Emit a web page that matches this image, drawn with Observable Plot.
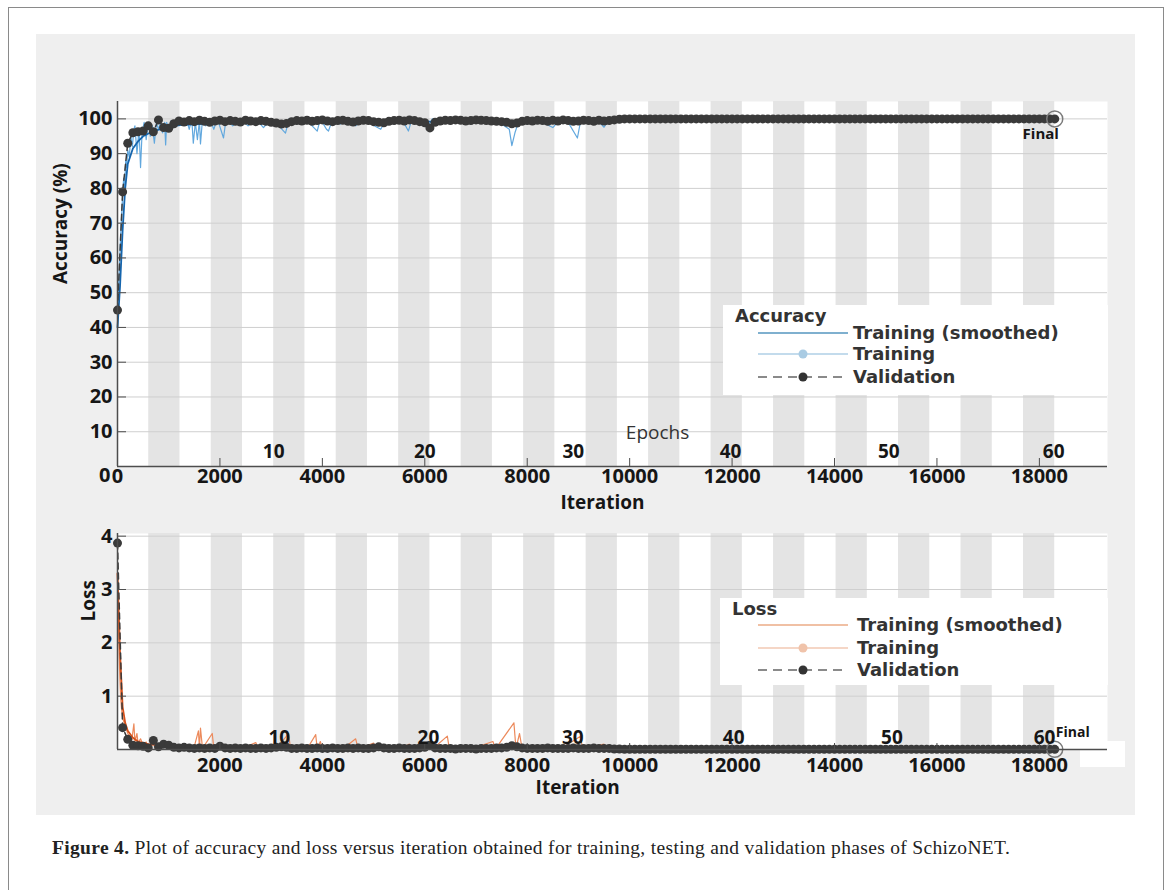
<!DOCTYPE html>
<html>
<head>
<meta charset="utf-8">
<script src="https://cdn.jsdelivr.net/npm/d3@7"></script>
<script src="https://cdn.jsdelivr.net/npm/@observablehq/plot@0.6"></script>
<style>
  html, body { margin: 0; padding: 0; background: #fff; overflow: hidden; }
  #fig { position: relative; width: 1171px; height: 890px; }
  #frame { position: absolute; left: 8px; top: 7px; width: 1154px; height: 900px; border: 1.5px solid #8a8a8a; }
  #panel { position: absolute; left: 36px; top: 34px; width: 1099px; height: 781px; background: #efefef; }
  #patch { position: absolute; left: 1080px; top: 741px; width: 45px; height: 26px; background: #fff; }
  .chart { position: absolute; left: 0; }
  #overlay { position: absolute; left: 0; top: 0; pointer-events: none; }
  #caption { position: absolute; left: 52px; top: 837px; font: 19.5px "Liberation Serif", serif; letter-spacing: 0.33px; color: #222; white-space: nowrap; }
</style>
</head>
<body>
<div id="fig">
  <div id="frame"></div>
  <div id="panel"></div>
  <div id="patch"></div>
  <div id="caption"><b>Figure 4.</b> Plot of accuracy and loss versus iteration obtained for training, testing and validation phases of SchizoNET.</div>
</div>
<script>
// ---- Training schedule ----
const itersPerEpoch = 305;
const numEpochs = 60;
const shadeEvery = 2;          // epochs per shaded band
const valEvery = 100;          // validation frequency (iterations)

// ---- Axis ticks ----
const accTicks = [10, 20, 30, 40, 50, 60, 70, 80, 90, 100];
const lossTicks = [1, 2, 3, 4];
const iterTicks = [2000, 4000, 6000, 8000, 10000, 12000, 14000, 16000, 18000];

// ---- Epoch markers along the iteration axis ----
const epochLabels = [10, 20, 30, 40, 50, 60];
const epochLabelIterAcc = [3050, 6000, 8900, 11970, 15060, 18280];
const epochLabelIterLoss = [3160, 6070, 8890, 12030, 15120, 18100];

// ---- Validation accuracy (%), one value every valEvery iterations ----
const valAccuracy = [
  45, 79, 93, 96, 96.3, 96.5, 98, 96.3, 99.7, 97.5,
  97.3, 98.6, 99.4, 99.1, 99.5, 99.2, 99.6, 99.3, 99.0, 99.4,
  99.6, 99.2, 99.5, 99.3, 99.1, 99.6, 99.4, 99.2, 99.5, 99.3,
  99.0, 98.8, 98.5, 98.7, 99.2, 99.5, 99.4, 99.6, 99.3, 99.5,
  99.7, 99.4, 99.2, 99.5, 99.6, 99.3, 99.1, 99.4, 99.6, 99.5,
  99.2, 99.0, 98.9, 99.3, 99.5, 99.6, 99.4, 99.7, 99.5, 99.2,
  98.9, 97.4, 99.0, 99.4, 99.6, 99.5, 99.7, 99.6, 99.4, 99.5,
  99.7, 99.6, 99.5, 99.4, 99.3, 99.2, 99.0, 98.6, 98.8, 99.3,
  99.5, 99.4, 99.6, 99.5, 99.3, 99.6, 99.4, 99.7, 99.5, 99.3,
  99.4, 99.6, 99.5, 99.3, 99.6, 99.4, 99.5, 99.7, 99.9, 100,
  100, 100, 100, 100, 100, 100, 100, 100, 100, 100, 100, 100,
  100, 100, 100, 100, 100, 100, 100, 100, 100, 100, 100, 100,
  100, 100, 100, 100, 100, 100, 100, 100, 100, 100, 100, 100,
  100, 100, 100, 100, 100, 100, 100, 100, 100, 100, 100, 100,
  100, 100, 100, 100, 100, 100, 100, 100, 100, 100, 100, 100,
  100, 100, 100, 100, 100, 100, 100, 100, 100, 100, 100, 100,
  100, 100, 100, 100, 100, 100, 100, 100, 100, 100, 100, 100
];

// ---- Validation loss, one value every valEvery iterations ----
const valLoss = [
  3.87, 0.41, 0.19, 0.08, 0.07, 0.06, 0.03, 0.17, 0.05, 0.10,
  0.08, 0.04, 0.03, 0.04, 0.03, 0.02, 0.03, 0.02, 0.03, 0.02,
  0.06, 0.03, 0.02, 0.03, 0.02, 0.03, 0.02, 0.02, 0.03, 0.02,
  0.03, 0.04, 0.05, 0.04, 0.02, 0.02, 0.03, 0.02, 0.02, 0.03,
  0.02, 0.02, 0.03, 0.02, 0.02, 0.03, 0.02, 0.03, 0.02, 0.02,
  0.03, 0.05, 0.03, 0.02, 0.02, 0.03, 0.02, 0.02, 0.02, 0.03,
  0.04, 0.08, 0.03, 0.02, 0.02, 0.02, 0.01, 0.02, 0.02, 0.02,
  0.01, 0.02, 0.02, 0.02, 0.03, 0.03, 0.04, 0.07, 0.05, 0.03,
  0.02, 0.02, 0.02, 0.02, 0.03, 0.02, 0.02, 0.02, 0.02, 0.03,
  0.02, 0.02, 0.02, 0.03, 0.02, 0.02, 0.02, 0.01, 0.01, 0.005,
  0.005, 0.004, 0.004, 0.005, 0.004, 0.004, 0.004, 0.005, 0.004, 0.004, 0.004, 0.004,
  0.004, 0.004, 0.005, 0.004, 0.004, 0.004, 0.004, 0.004, 0.004, 0.004, 0.004, 0.004,
  0.004, 0.004, 0.004, 0.004, 0.003, 0.004, 0.004, 0.004, 0.004, 0.003, 0.004, 0.004,
  0.003, 0.004, 0.004, 0.003, 0.004, 0.003, 0.003, 0.004, 0.003, 0.003, 0.003, 0.004,
  0.003, 0.003, 0.003, 0.003, 0.004, 0.003, 0.003, 0.003, 0.003, 0.003, 0.003, 0.003,
  0.003, 0.003, 0.003, 0.003, 0.003, 0.003, 0.003, 0.003, 0.003, 0.003, 0.003, 0.003,
  0.003, 0.003, 0.003, 0.003, 0.003, 0.003, 0.003, 0.003, 0.003, 0.003, 0.003, 0.003
];

// ---- Training accuracy (%), per-iteration trace [iteration, value] ----
const trainAccuracy = [
  [0, 40], [20, 52], [40, 58], [60, 66], [80, 72], [100, 78], [120, 83], [140, 80], [160, 88], [180, 86],
  [200, 91], [230, 89], [260, 95], [290, 92], [320, 97], [340, 98], [380, 90], [420, 97], [450, 86], [480, 96],
  [520, 99], [560, 94], [600, 99], [640, 95], [680, 98], [720, 93], [760, 99], [800, 97], [840, 99], [880, 96],
  [920, 99], [940, 92.5], [960, 99], [1000, 97], [1050, 99.5], [1100, 97.5], [1150, 100], [1200, 98], [1250, 100],
  [1300, 98.5], [1350, 100], [1400, 97], [1450, 100], [1480, 93], [1520, 99], [1560, 94], [1600, 99.5], [1620, 92.8],
  [1660, 100], [1720, 98], [1800, 100], [1880, 97], [1950, 100], [2070, 94.5], [2120, 100], [2250, 98], [2400, 100],
  [2550, 98], [2700, 100], [2850, 97.5], [3000, 100], [3150, 98], [3280, 95.9], [3350, 100], [3500, 98.5], [3650, 100],
  [3800, 98], [3900, 96.5], [3960, 100], [4080, 97], [4120, 96.5], [4200, 100], [4350, 98.5], [4500, 100], [4650, 98],
  [4800, 100], [4950, 98.5], [5140, 97], [5250, 100], [5400, 98.5], [5550, 100], [5680, 96.5], [5750, 100], [5900, 98.5],
  [6050, 97.5], [6150, 100], [6300, 98.5], [6450, 100], [6600, 99], [6750, 100], [6900, 98.5], [7050, 100], [7200, 99],
  [7350, 100], [7500, 98.5], [7650, 97], [7700, 92.3], [7760, 96], [7850, 100], [8000, 98.5], [8150, 100], [8300, 99],
  [8500, 97.5], [8650, 100], [8800, 99], [8980, 94.5], [9050, 100], [9200, 99], [9350, 100], [9500, 97.6], [9600, 100],
  [9800, 99.5], [10000, 100], [18300, 100]
];
const trainAccuracySmoothed = [
  [0, 40], [50, 52], [100, 68], [150, 80], [200, 87], [300, 91.5], [400, 93.5], [500, 95], [700, 96.5], [900, 97.3],
  [1200, 98.2], [1600, 98.5], [2000, 98.9], [3000, 99.1], [4000, 99.2], [5000, 99.3], [6000, 99.2], [7000, 99.4],
  [7700, 98.5], [8000, 99.2], [9000, 99.2], [9500, 99.3], [10000, 99.8], [11000, 100], [18300, 100]
];

// ---- Training loss, per-iteration trace [iteration, value] ----
const trainLoss = [
  [0, 3.3], [20, 2.2], [40, 1.5], [60, 1.0], [80, 0.75], [100, 0.6], [130, 0.5], [160, 0.42], [200, 0.3], [240, 0.25],
  [280, 0.18], [320, 0.48], [340, 0.15], [380, 0.3], [400, 0.12], [450, 0.2], [500, 0.08], [560, 0.14], [600, 0.05],
  [700, 0.1], [800, 0.04], [900, 0.09], [1000, 0.03], [1100, 0.07], [1200, 0.02], [1300, 0.05], [1400, 0.02],
  [1500, 0.06], [1580, 0.35], [1600, 0.02], [1620, 0.4], [1660, 0.02], [1850, 0.3], [1880, 0.02], [2000, 0.06],
  [2100, 0.02], [2300, 0.08], [2400, 0.01], [2700, 0.13], [2750, 0.01], [3000, 0.05], [3100, 0.01], [3340, 0.3],
  [3380, 0.01], [3600, 0.06], [3700, 0.01], [3870, 0.28], [3900, 0.01], [3960, 0.15], [4000, 0.01], [4300, 0.06],
  [4400, 0.01], [4650, 0.2], [4700, 0.01], [5000, 0.12], [5050, 0.01], [5400, 0.05], [5500, 0.01], [5700, 0.1],
  [5750, 0.01], [6100, 0.08], [6150, 0.01], [6440, 0.25], [6480, 0.01], [6800, 0.06], [6900, 0.01], [7330, 0.15],
  [7380, 0.01], [7740, 0.5], [7780, 0.02], [7850, 0.3], [7900, 0.01], [8200, 0.05], [8300, 0.01], [8600, 0.08],
  [8650, 0.01], [9040, 0.25], [9080, 0.01], [9500, 0.1], [9550, 0.01], [10000, 0.005], [18300, 0.003]
];
const trainLossSmoothed = [
  [0, 3.3], [50, 1.8], [100, 0.8], [150, 0.5], [200, 0.35], [300, 0.22], [400, 0.15], [600, 0.1], [1000, 0.06],
  [2000, 0.04], [4000, 0.03], [8000, 0.03], [10000, 0.01], [18300, 0.005]
];

// ---- Legend entries ----
const accLegend = { title: "Accuracy", labels: ["Training (smoothed)", "Training", "Validation"],
  lineColors: ["#7fb0cf", "#c3dbec", "#8a8a8a"], dotColors: [null, "#a9cbe3", "#333333"] };
const lossLegend = { title: "Loss", labels: ["Training (smoothed)", "Training", "Validation"],
  lineColors: ["#f0c0a4", "#f5d6c6", "#8a8a8a"], dotColors: [null, "#f0c3aa", "#333333"] };

// ---- Derived tables ----
const valAccPts = valAccuracy.map((v, i) => ({iter: i * valEvery, v}));
const valLossPts = valLoss.map((v, i) => ({iter: i * valEvery, v}));
const bandSpan = itersPerEpoch * shadeEvery;
const shaded = d3.range(numEpochs / shadeEvery)
  .filter(k => k % 2 === 1)
  .map(k => ({x1: k * bandSpan, x2: (k + 1) * bandSpan}));
const finalAcc = valAccPts[valAccPts.length - 1];
const finalLoss = valLossPts[valLossPts.length - 1];

const xDomain = [0, 19330];
const ink = "#161616";
const axisInk = "#4d4d4d";
const intFmt = d3.format("d");
const baseStyle = {
  background: "transparent", overflow: "visible",
  fontFamily: "'Open Sans', sans-serif", fontSize: "20px", fontWeight: "bold", color: ink
};

// ---- Accuracy panel ----
const accChart = Plot.plot({
  width: 1171, height: 520,
  marginLeft: 117, marginRight: 64, marginTop: 101, marginBottom: 54,
  x: {domain: xDomain},
  y: {domain: [0, 105]},
  style: baseStyle,
  marks: [
    Plot.frame({fill: "#fff", stroke: null}),
    Plot.rect(shaded, {x1: "x1", x2: "x2", fill: "#e4e4e4"}),
    Plot.gridY(accTicks, {stroke: "#cfcfcf", strokeOpacity: 1}),
    Plot.line(trainAccuracy, {x: d => d[0], y: d => d[1], stroke: "#62a8de", strokeWidth: 1.2}),
    Plot.line(trainAccuracySmoothed, {x: d => d[0], y: d => d[1], stroke: "#1565ad", strokeWidth: 1.8}),
    Plot.line(valAccPts, {x: "iter", y: "v", stroke: "#3a3a3a", strokeWidth: 1.5, strokeDasharray: "6,4"}),
    Plot.dot(valAccPts, {x: "iter", y: "v", r: 4.5, fill: "#3a3a3a"}),
    Plot.dot([finalAcc], {x: "iter", y: "v", r: 8, stroke: "#7a7a7a", strokeWidth: 1.5, fill: "none"}),
    Plot.ruleX([0], {stroke: axisInk, strokeWidth: 1.5}),
    Plot.ruleY([0], {stroke: axisInk, strokeWidth: 1.5}),
    Plot.axisY(accTicks, {tickSize: -9, tickPadding: 14, label: null, stroke: axisInk, tickFormat: intFmt}),
    Plot.axisY([0], {tickSize: 0, tickPadding: 7, dy: 9, label: null, tickFormat: intFmt}),
    Plot.axisX([0, ...iterTicks], {tickSize: -8, tickPadding: 10, label: null, stroke: axisInk, tickFormat: intFmt}),
    Plot.text(epochLabels, {x: (d, i) => epochLabelIterAcc[i], text: d => String(d), frameAnchor: "bottom", lineAnchor: "middle", dy: -15, fontSize: 19}),
    Plot.text(["Epochs"], {x: 10545, frameAnchor: "bottom", lineAnchor: "middle", dy: -34, fontWeight: "normal", fill: "#333", fontSize: 19}),
    Plot.text(["Iteration"], {x: 9470, frameAnchor: "bottom", lineAnchor: "middle", dy: 36, fontSize: 19}),
    Plot.text(["Accuracy (%)"], {frameAnchor: "left", dx: -57, rotate: -90, fontSize: 19}),
    Plot.text([finalAcc], {x: "iter", y: "v", text: () => "Final", dx: -14, dy: 15, fontSize: 15})
  ]
});
accChart.classList.add("chart");
accChart.style.top = "0px";
document.getElementById("fig").appendChild(accChart);

// ---- Loss panel ----
const lossChart = Plot.plot({
  width: 1171, height: 330,
  marginLeft: 117, marginRight: 64, marginTop: 53, marginBottom: 61,
  x: {domain: xDomain},
  y: {domain: [0, 4.05]},
  style: baseStyle,
  marks: [
    Plot.frame({fill: "#fff", stroke: null}),
    Plot.rect(shaded, {x1: "x1", x2: "x2", fill: "#e4e4e4"}),
    Plot.gridY(lossTicks, {stroke: "#cfcfcf", strokeOpacity: 1}),
    Plot.line(trainLoss, {x: d => d[0], y: d => d[1], stroke: "#ec8a5c", strokeWidth: 1.2}),
    Plot.line(trainLossSmoothed, {x: d => d[0], y: d => d[1], stroke: "#d4501a", strokeWidth: 1.8}),
    Plot.line(valLossPts, {x: "iter", y: "v", stroke: "#3a3a3a", strokeWidth: 1.5, strokeDasharray: "6,4"}),
    Plot.dot(valLossPts, {x: "iter", y: "v", r: 4.5, fill: "#3a3a3a"}),
    Plot.dot([finalLoss], {x: "iter", y: "v", r: 8, stroke: "#7a7a7a", strokeWidth: 1.5, fill: "none"}),
    Plot.ruleX([0], {stroke: axisInk, strokeWidth: 1.5}),
    Plot.ruleY([0], {stroke: axisInk, strokeWidth: 1.5}),
    Plot.axisY(lossTicks, {tickSize: -9, tickPadding: 14, label: null, stroke: axisInk, tickFormat: intFmt}),
    Plot.axisX(iterTicks, {tickSize: -6, tickPadding: 14, label: null, stroke: axisInk, tickFormat: intFmt}),
    Plot.text(epochLabels, {x: (d, i) => epochLabelIterLoss[i], text: d => String(d), frameAnchor: "bottom", lineAnchor: "middle", dy: -12, fontSize: 19}),
    Plot.text(["Iteration"], {x: 8985, frameAnchor: "bottom", lineAnchor: "middle", dy: 38, fontSize: 19}),
    Plot.text(["Loss"], {y: 2.4, frameAnchor: "left", dx: -29, rotate: -90, fontSize: 19}),
    Plot.text([finalLoss], {x: "iter", y: "v", text: () => "Final", dx: 18, dy: -17, fontSize: 14})
  ]
});
lossChart.classList.add("chart");
lossChart.style.top = "480px";
document.getElementById("fig").appendChild(lossChart);

// ---- Legends ----
const overlay = d3.select("#fig").append("svg")
  .attr("id", "overlay").attr("width", 1171).attr("height", 890);

function drawLegend(spec, box) {
  const g = overlay.append("g").attr("font-family", "'DejaVu Sans', sans-serif").attr("font-weight", "bold");
  g.append("rect").attr("x", box.left).attr("y", box.top).attr("width", box.width).attr("height", box.height).attr("fill", "#fff");
  g.append("text").attr("x", box.left + 12).attr("y", box.titleY).attr("dy", "0.35em")
    .attr("font-size", 18).attr("fill", "#333").text(spec.title);
  spec.labels.forEach((label, i) => {
    const y = box.rowY[i];
    g.append("line").attr("x1", box.sampleX0).attr("x2", box.sampleX1).attr("y1", y).attr("y2", y)
      .attr("stroke", spec.lineColors[i]).attr("stroke-width", 2)
      .attr("stroke-dasharray", i === 2 ? "9,6" : null);
    if (spec.dotColors[i]) {
      g.append("circle").attr("cx", (box.sampleX0 + box.sampleX1) / 2).attr("cy", y)
        .attr("r", 4.5).attr("fill", spec.dotColors[i]);
    }
    g.append("text").attr("x", box.textX).attr("y", y).attr("dy", "0.35em")
      .attr("font-size", 18).attr("fill", "#333").text(label);
  });
}
drawLegend(accLegend, {left: 723, top: 305, width: 385, height: 90, titleY: 316,
  rowY: [333, 354, 377], sampleX0: 758, sampleX1: 848, textX: 853});
drawLegend(lossLegend, {left: 720, top: 598, width: 388, height: 87, titleY: 609,
  rowY: [625, 648, 670], sampleX0: 758, sampleX1: 848, textX: 857});
</script>
</body>
</html>
